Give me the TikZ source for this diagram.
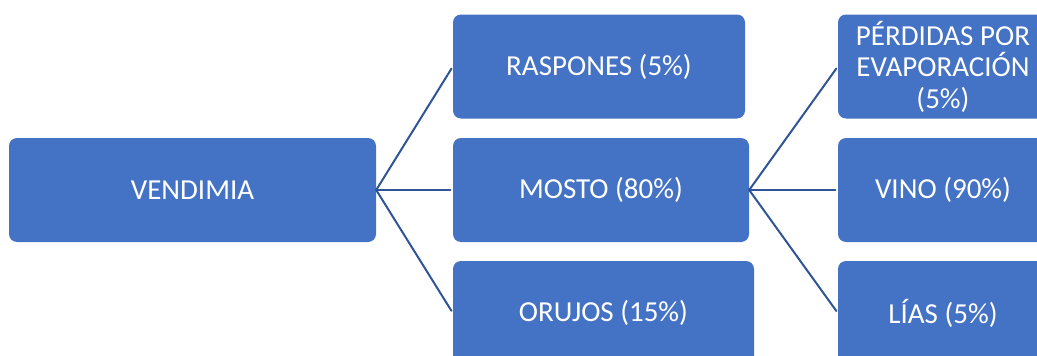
\documentclass[tikz,border=0pt]{standalone}
\usepackage{fontspec}
\setmainfont{Carlito}
\usepackage{tikz}
\usetikzlibrary{positioning}
\definecolor{boxblue}{HTML}{4472C4}
\definecolor{linkblue}{HTML}{2F5597}
\tikzset{
  every picture/.append style={line cap=round,line join=round},
  wine box/.style={rectangle,rounded corners=8pt,fill=boxblue,draw=none,text=white,
    inner sep=0pt,minimum height=104pt,align=center,
    font=\fontsize{29}{31.5}\selectfont},
  wine link/.style={linkblue,line width=2pt,shorten >=2.5pt}
}
\begin{document}
\begin{tikzpicture}[x=1pt,y=-1pt]
  \useasboundingbox (0,0) rectangle (1037,356);
  \clip (0,0) rectangle (1037,356);
  % left column
  \node[wine box,minimum width=367pt] (vendimia) at (192.5,190) {VENDIMIA};
  % middle column
  \node[wine box,minimum width=292pt] (raspones) at (599,66.5) {RASPONES (5\%)};
  \node[wine box,minimum width=296pt] (mosto) at (601,190) {MOSTO (80\%)};
  \node[wine box,minimum width=301pt] (orujos) at (603.5,313) {ORUJOS (15\%)};
  % right column
  \node[wine box,minimum width=210pt] (perdidas) at (943,66.5) {PÉRDIDAS POR\\EVAPORACIÓN\\(5\%)};
  \node[wine box,minimum width=210pt] (vino) at (943,190) {VINO (90\%)};
  \node[wine box,minimum width=210pt] (lias) at (943,313) {LÍAS (5\%)};
  % links
  \foreach \t in {raspones,mosto,orujos}
    \draw[wine link] (vendimia.east) -- (\t.west);
  \foreach \t in {perdidas,vino,lias}
    \draw[wine link] (mosto.east) -- (\t.west);
\end{tikzpicture}
\end{document}
